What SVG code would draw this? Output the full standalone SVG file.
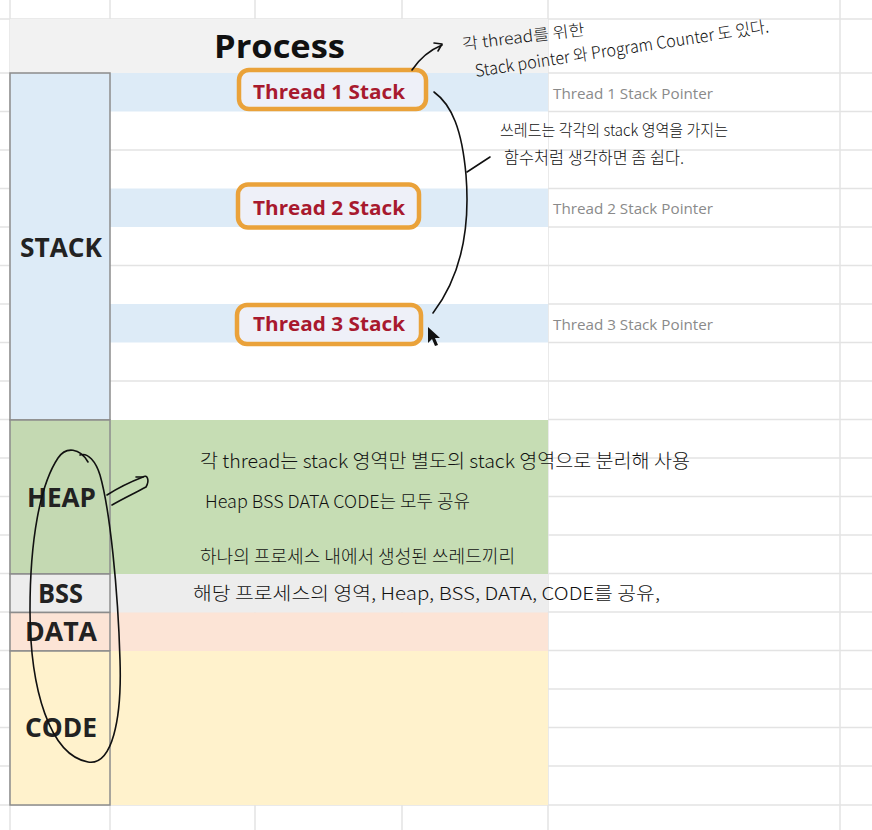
<svg xmlns="http://www.w3.org/2000/svg" width="872" height="830" viewBox="0 0 872 830">
<style>
.grid{stroke:#e3e3e3;stroke-width:1.5;fill:none}
.cell{stroke:#8c8c8c;stroke-width:1.5}
.seg{font-family:"Open Sans","Noto Sans",sans-serif;font-weight:bold;font-size:27px;fill:#222}
.tbox{fill:#eef0f8;stroke:#eaa23a;stroke-width:4.5}
.ttext{font-family:"Open Sans","Noto Sans",sans-serif;font-weight:bold;font-size:19px;fill:#a8192e}
.ptr{font-family:"Open Sans","Noto Sans",sans-serif;font-size:14px;fill:#8a8a8a}
.hand{font-family:"Noto Sans CJK KR","Noto Sans",sans-serif;font-weight:300;fill:#111}
.ink{fill:none;stroke:#111;stroke-width:1.6;stroke-linecap:round;stroke-linejoin:round}
</style>
<rect width="872" height="830" fill="#ffffff"/>
<g id="grid">
<path class="grid" d="M0,19H872M0,73H872M0,111.5H872M0,150H872M0,188.5H872M0,227H872M0,265.5H872M0,304H872M0,342.5H872M0,381H872M0,419.5H872M0,458H872M0,496.5H872M0,535H872M0,573.5H872M0,612H872M0,650.5H872M0,689H872M0,727.5H872M0,766H872M0,805H872"/>
<path class="grid" d="M10,0V830M110,0V830M255,0V830M402,0V830M548,0V830M840,0V830"/>
</g>
<g id="header">
<rect x="10" y="19" width="538" height="54" fill="#f2f2f2"/>
<text x="214" y="58" font-family="'Open Sans','Noto Sans',sans-serif" font-weight="bold" font-size="32" fill="#111" textLength="131" lengthAdjust="spacingAndGlyphs">Process</text>
</g>
<g id="stack-area">
<rect x="110" y="73" width="438" height="347" fill="#ffffff"/>
<path class="grid" d="M110,150H548M110,265.5H548M110,381H548"/>
<rect x="110" y="73" width="438" height="38.5" fill="#ddebf7"/>
<rect x="110" y="188.5" width="438" height="38.5" fill="#ddebf7"/>
<rect x="110" y="304" width="438" height="38.5" fill="#ddebf7"/>
</g>
<g id="stack">
<rect class="cell" x="10" y="73" width="100" height="347" fill="#ddebf7"/>
<text class="seg" x="20" y="257" textLength="82" lengthAdjust="spacingAndGlyphs">STACK</text>
</g>
<g id="heap">
<rect x="110" y="420" width="438" height="154" fill="#c6ddb4"/>
<rect class="cell" x="10" y="420" width="100" height="154" fill="#c4d9b2"/>
<text class="seg" x="27" y="507" textLength="69" lengthAdjust="spacingAndGlyphs">HEAP</text>
</g>
<g id="bss">
<rect x="110" y="574" width="438" height="38.5" fill="#ededed"/>
<rect class="cell" x="10" y="574" width="100" height="38.5" fill="#ededed"/>
<text class="seg" x="38" y="603" textLength="45" lengthAdjust="spacingAndGlyphs">BSS</text>
</g>
<g id="data">
<rect x="110" y="612.5" width="438" height="38.5" fill="#fce4d6"/>
<rect class="cell" x="10" y="612.5" width="100" height="38.5" fill="#fce4d6"/>
<text class="seg" x="25" y="641" textLength="72" lengthAdjust="spacingAndGlyphs">DATA</text>
</g>
<g id="code">
<rect x="110" y="651" width="438" height="154" fill="#fff2cc"/>
<rect class="cell" x="10" y="651" width="100" height="154" fill="#fff2cc"/>
<text class="seg" x="25" y="737" textLength="72" lengthAdjust="spacingAndGlyphs">CODE</text>
</g>
<g id="thread1">
<rect class="tbox" x="239" y="70" width="187" height="39" rx="10"/>
<text class="ttext" x="253" y="99" textLength="152" lengthAdjust="spacingAndGlyphs">Thread 1 Stack</text>
</g>
<g id="thread2">
<rect class="tbox" x="238" y="184.5" width="181" height="43" rx="10"/>
<text class="ttext" x="253" y="215" textLength="152" lengthAdjust="spacingAndGlyphs">Thread 2 Stack</text>
</g>
<g id="thread3">
<rect class="tbox" x="237" y="305" width="184" height="39" rx="10"/>
<text class="ttext" x="253" y="331" textLength="152" lengthAdjust="spacingAndGlyphs">Thread 3 Stack</text>
</g>
<g id="pointers">
<text class="ptr" x="553" y="99" textLength="160" lengthAdjust="spacingAndGlyphs">Thread 1 Stack Pointer</text>
<text class="ptr" x="553" y="214" textLength="160" lengthAdjust="spacingAndGlyphs">Thread 2 Stack Pointer</text>
<text class="ptr" x="553" y="330" textLength="160" lengthAdjust="spacingAndGlyphs">Thread 3 Stack Pointer</text>
</g>
<g id="annotations">
<text class="hand" font-size="16" x="463" y="50" transform="rotate(-7 463 50)" textLength="123" lengthAdjust="spacingAndGlyphs">각 thread를 위한</text>
<text class="hand" font-size="17" x="476" y="77" transform="rotate(-8.7 476 77)" textLength="297" lengthAdjust="spacingAndGlyphs">Stack pointer 와 Program Counter 도 있다.</text>
<text class="hand" font-size="16" x="500" y="136" textLength="228" lengthAdjust="spacingAndGlyphs">쓰레드는 각각의 stack 영역을 가지는</text>
<text class="hand" font-size="17" x="504" y="164" textLength="180" lengthAdjust="spacingAndGlyphs">함수처럼 생각하면 좀 쉽다.</text>
<text class="hand" font-size="19" x="200" y="468" textLength="490" lengthAdjust="spacingAndGlyphs">각 thread는 stack 영역만 별도의 stack 영역으로 분리해 사용</text>
<text class="hand" font-size="18" x="205" y="508" textLength="265" lengthAdjust="spacingAndGlyphs">Heap BSS DATA CODE는 모두 공유</text>
<text class="hand" font-size="18" x="200" y="563" textLength="315" lengthAdjust="spacingAndGlyphs">하나의 프로세스 내에서 생성된 쓰레드끼리</text>
<text class="hand" font-size="18" x="193" y="600" textLength="467" lengthAdjust="spacingAndGlyphs">해당 프로세스의 영역, Heap, BSS, DATA, CODE를 공유,</text>
</g>
<g id="connectors">
<path class="ink" d="M412,70 C420,58 430,50 442,45"/>
<path class="ink" d="M434,43 L442,44 L438,51"/>
<path class="ink" d="M434,92 C452,105 462,130 466,175 C470,225 462,275 433,313"/>
<path class="ink" d="M467,172 L490,157"/>
<path class="ink" d="M107,495 C118,488 130,482 143,477 C147,474 150,480 146,487 C135,493 122,499 112,505"/>
<path class="ink" d="M136,477 L143,477"/>
<path class="ink" d="M88,462 C80,448 66,446 58,458 C40,485 30,540 30,610 C30,690 50,755 88,762 C112,766 122,720 120,660 C118,590 110,510 100,475 C96,462 88,452 80,455"/>
</g>
<g id="cursor">
<path d="M428,327 L428,343 L432,339 L435,346 L438,345 L435,338 L440,338 Z" fill="#111"/>
</g>
</svg>
